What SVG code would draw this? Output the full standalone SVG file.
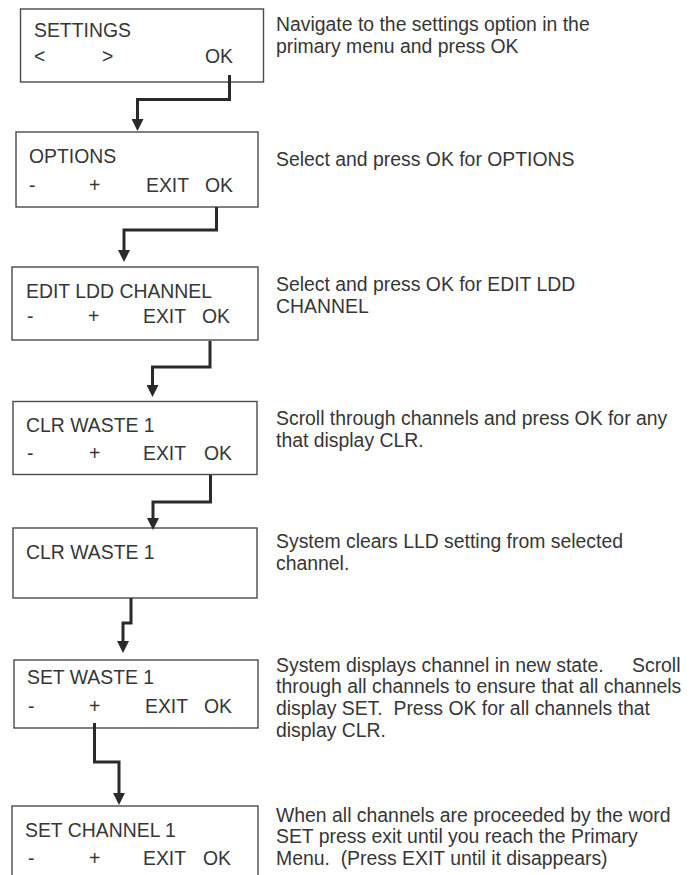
<svg xmlns="http://www.w3.org/2000/svg" width="691" height="875" viewBox="0 0 691 875">
<style>
  text { font-family: "Liberation Sans", Arial, sans-serif; font-size: 19.4px; fill: #363636; }
  .box { fill: #ffffff; stroke: #4a4a4a; stroke-width: 1.4; }
  .conn { fill: none; stroke: #2a2a2a; stroke-width: 3; stroke-linejoin: miter; }
</style>
<defs>
  <marker id="arr" markerUnits="userSpaceOnUse" markerWidth="12" markerHeight="12" refX="4" refY="6" orient="auto">
    <path d="M0,0 L12,6 L0,12 z" fill="#2a2a2a"/>
  </marker>
</defs>
<rect width="691" height="875" fill="#ffffff"/>

<g id="node-settings">
  <rect class="box" x="20.5" y="9" width="243" height="73"/>
  <text x="34" y="37">SETTINGS</text>
  <text x="34" y="63">&lt;</text>
  <text x="102" y="63">&gt;</text>
  <text x="205" y="63">OK</text>
</g>
<g id="node-options">
  <rect class="box" x="16" y="132" width="242" height="75"/>
  <text x="29" y="163">OPTIONS</text>
  <text x="29" y="192">-</text>
  <text x="89" y="192">+</text>
  <text x="146" y="192">EXIT</text>
  <text x="205" y="192">OK</text>
</g>
<g id="node-edit">
  <rect class="box" x="12" y="267" width="246" height="73"/>
  <text x="26" y="298">EDIT LDD CHANNEL</text>
  <text x="27" y="323">-</text>
  <text x="88" y="323">+</text>
  <text x="143" y="323">EXIT</text>
  <text x="202" y="323">OK</text>
</g>
<g id="node-clr1">
  <rect class="box" x="13" y="401.5" width="244" height="73"/>
  <text x="26" y="432">CLR WASTE 1</text>
  <text x="27" y="460">-</text>
  <text x="89" y="460">+</text>
  <text x="143" y="460">EXIT</text>
  <text x="204" y="460">OK</text>
</g>
<g id="node-clr2">
  <rect class="box" x="13" y="528" width="244" height="70"/>
  <text x="26" y="559">CLR WASTE 1</text>
</g>
<g id="node-set">
  <rect class="box" x="14" y="660" width="244" height="68"/>
  <text x="27" y="684">SET WASTE 1</text>
  <text x="28" y="713">-</text>
  <text x="89" y="713">+</text>
  <text x="145" y="713">EXIT</text>
  <text x="204" y="713">OK</text>
</g>
<g id="node-setchannel">
  <rect class="box" x="12" y="806" width="246" height="80"/>
  <text x="25" y="837">SET CHANNEL 1</text>
  <text x="28" y="865">-</text>
  <text x="89" y="865">+</text>
  <text x="143" y="865">EXIT</text>
  <text x="203" y="865">OK</text>
</g>

<g id="connectors">
  <path class="conn" d="M229.5,75 V99.5 H137.5 V123" marker-end="url(#arr)"/>
  <path class="conn" d="M216.5,207 V230 H124 V254" marker-end="url(#arr)"/>
  <path class="conn" d="M210,341 V367 H152.5 V389" marker-end="url(#arr)"/>
  <path class="conn" d="M210.5,475 V502 H153 V522" marker-end="url(#arr)"/>
  <path class="conn" d="M131,598 V623 H123 V645" marker-end="url(#arr)"/>
  <path class="conn" d="M94.5,723 V762 H119 V797" marker-end="url(#arr)"/>
</g>

<g id="descriptions">
  <text x="276" y="31">Navigate to the settings option in the</text>
  <text x="276" y="52.5">primary menu and press OK</text>
  <text x="276" y="166">Select and press OK for OPTIONS</text>
  <text x="276" y="291">Select and press OK for EDIT LDD</text>
  <text x="276" y="312.5">CHANNEL</text>
  <text x="276" y="425">Scroll through channels and press OK for any</text>
  <text x="276" y="447">that display CLR.</text>
  <text x="276" y="548">System clears LLD setting from selected</text>
  <text x="276" y="570">channel.</text>
  <text x="276" y="671.5">System displays channel in new state.<tspan x="632">Scroll</tspan></text>
  <text x="276" y="693.2">through all channels to ensure that all channels</text>
  <text x="276" y="715" xml:space="preserve">display SET.  Press OK for all channels that</text>
  <text x="276" y="736.7">display CLR.</text>
  <text x="276" y="821.5">When all channels are proceeded by the word</text>
  <text x="276" y="843.2">SET press exit until you reach the Primary</text>
  <text x="276" y="865" xml:space="preserve">Menu.  (Press EXIT until it disappears)</text>
</g>
</svg>
